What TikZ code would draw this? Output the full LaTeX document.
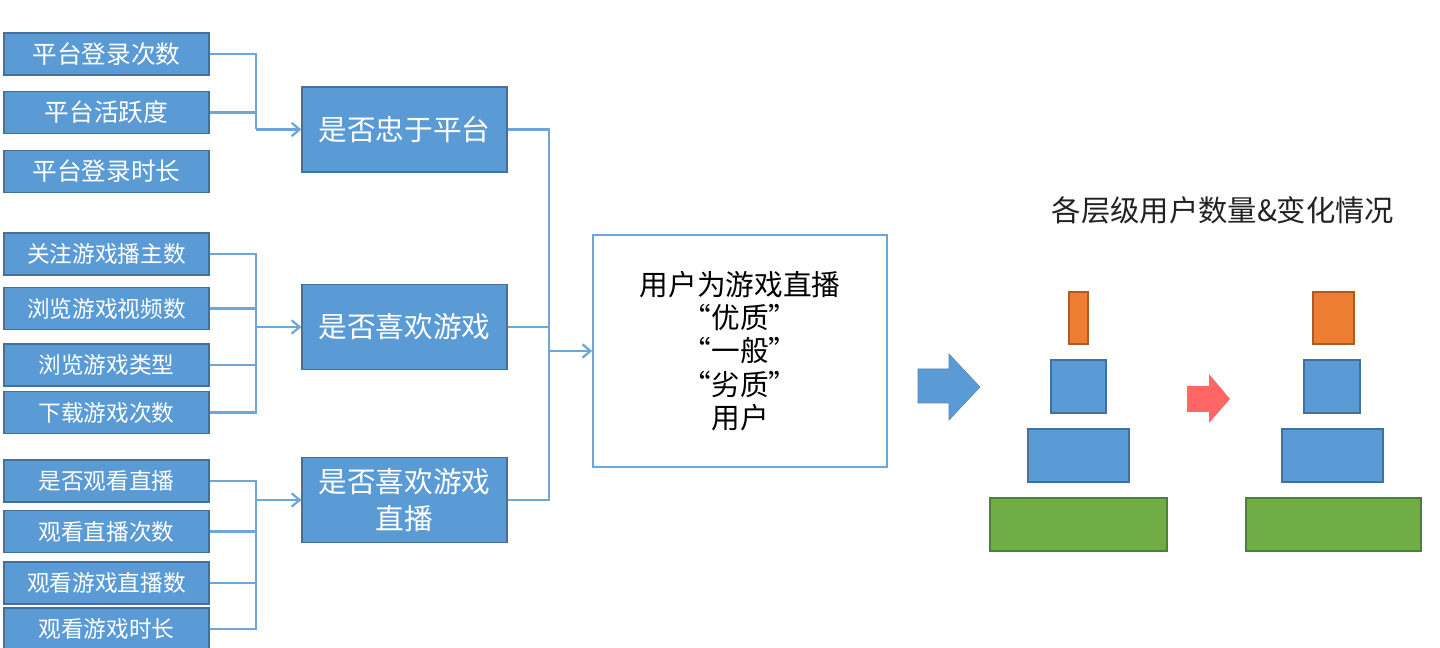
\documentclass[tikz,border=0pt]{standalone}
\usepackage{fontspec}
\setmainfont{Noto Sans CJK SC}
\usetikzlibrary{arrows.meta}
\definecolor{boxblue}{HTML}{5B9BD5}
\definecolor{boxedge}{HTML}{41719C}
\definecolor{lineblue}{HTML}{6FA6DA}
\definecolor{orng}{HTML}{ED7D31}
\definecolor{orngedge}{HTML}{AE5A21}
\definecolor{grn}{HTML}{70AD47}
\definecolor{grnedge}{HTML}{507E32}
\definecolor{redarrow}{HTML}{FF6666}
\definecolor{titlecol}{HTML}{222222}
\tikzset{
  lbox/.style={draw=boxedge, fill=boxblue, line width=0.9pt, text=white,
    minimum width=205*0.75pt, minimum height=42*0.75pt, inner sep=0pt,
    font=\fontsize{17}{20}\selectfont},
  lboxa/.style={lbox, font=\fontsize{18.5}{22}\selectfont},
  mbox/.style={draw=boxedge, fill=boxblue, line width=0.9pt, text=white,
    minimum width=205*0.75pt, minimum height=85*0.75pt, inner sep=0pt, align=center,
    font=\fontsize{21.5}{27.5}\selectfont},
  cbox/.style={draw=lineblue, fill=white, line width=1.2pt, text=black,
    minimum width=294*0.75pt, minimum height=232*0.75pt, inner sep=0pt, align=center,
    font=\fontsize{21.5}{25}\selectfont},
  conn/.style={draw=lineblue, line width=1.7pt},
  arr/.style={conn, -{Straight Barb[length=6pt, width=10pt, line width=1.7pt]}},
  blk/.style={line width=0.9pt},
}
\begin{document}
\begin{tikzpicture}[x=0.75pt, y=-0.75pt]
\useasboundingbox (0,0) rectangle (1440,648);
% left column
\node[lboxa] (a1) at (106.5,54) {平台登录次数};
\node[lboxa] (a2) at (106.5,112.5) {平台活跃度};
\node[lboxa] (a3) at (106.5,171.5) {平台登录时长};
\node[lbox] (a4) at (106.5,254) {关注游戏播主数};
\node[lbox] (a5) at (106.5,308.5) {浏览游戏视频数};
\node[lbox] (a6) at (106.5,365) {浏览游戏类型};
\node[lbox] (a7) at (106.5,412.5) {下载游戏次数};
\node[lbox] (a8) at (106.5,481) {是否观看直播};
\node[lbox] (a9) at (106.5,531.5) {观看直播次数};
\node[lbox] (a10) at (106.5,583) {观看游戏直播数};
\node[lbox] (a11) at (106.5,629) {观看游戏时长};
% middle column
\node[mbox] (b1) at (404.5,129.5) {是否忠于平台};
\node[mbox] (b2) at (404.5,327) {是否喜欢游戏};
\node[mbox] (b3) at (404.5,500) {是否喜欢游戏\\直播};
% central box
\node[cbox] (c) at (740,351) {用户为游戏直播\\“优质”\\“一般”\\“劣质”\\用户};
% junctions
\coordinate (j1) at (256,129.5);
\coordinate (j2) at (256,327);
\coordinate (j3) at (256,500);
\coordinate (j4) at (549,351);
% group 1
\draw[conn] (a1.east) -| (j1);
\draw[conn] (a2.east) -| (j1);
\draw[arr] (j1) -- (b1.west);
% group 2
\draw[conn] (a4.east) -| (j2);
\draw[conn] (a5.east) -| (j2);
\draw[conn] (a6.east) -| (j2);
\draw[conn] (a7.east) -| (j2);
\draw[arr] (j2) -- (b2.west);
% group 3
\draw[conn] (a8.east) -| (j3);
\draw[conn] (a9.east) -| (j3);
\draw[conn] (a10.east) -| (j3);
\draw[conn] (a11.east) -| (j3);
\draw[arr] (j3) -- (b3.west);
% to central
\draw[conn] (b1.east) -| (j4);
\draw[conn] (b2.east) -| (j4);
\draw[conn] (b3.east) -| (j4);
\draw[arr] (j4) -- (c.west);
% big blue arrow
\fill[boxblue, draw=boxblue!85!black, line width=0.4pt]
  (918,369) -- (949,369) -- (949,354) -- (980,387) -- (949,420) -- (949,403) -- (918,403) -- cycle;
% title
\node[text=titlecol, font=\fontsize{22}{26}\selectfont] (t) at (1223,210) {各层级用户数量\&变化情况};
% left pyramid
\filldraw[fill=orng, draw=orngedge, blk] (1069,292) rectangle (1088,344);
\filldraw[fill=boxblue, draw=boxedge, blk] (1051,360) rectangle (1106,413);
\filldraw[fill=boxblue, draw=boxedge, blk] (1028,429) rectangle (1129,482);
\filldraw[fill=grn, draw=grnedge, blk] (990,498) rectangle (1167,551);
% red arrow
\fill[redarrow] (1187,386) -- (1209,386) -- (1209,374) -- (1230,399) -- (1209,423) -- (1209,412) -- (1187,412) -- cycle;
% right pyramid
\filldraw[fill=orng, draw=orngedge, blk] (1313,292) rectangle (1354,344);
\filldraw[fill=boxblue, draw=boxedge, blk] (1304,360) rectangle (1360,413);
\filldraw[fill=boxblue, draw=boxedge, blk] (1282,429) rectangle (1383,482);
\filldraw[fill=grn, draw=grnedge, blk] (1246,498) rectangle (1421,551);
\end{tikzpicture}
\end{document}
